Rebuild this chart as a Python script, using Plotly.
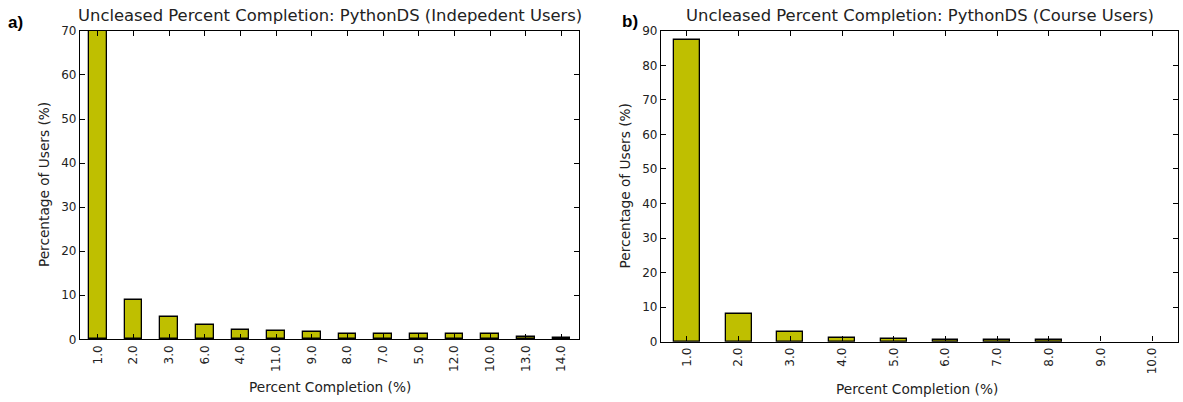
import plotly.graph_objects as go

# ---- data ----
left_categories = ["1.0", "2.0", "3.0", "6.0", "4.0", "11.0", "9.0", "8.0",
                   "7.0", "5.0", "12.0", "10.0", "13.0", "14.0"]
left_values = [70.0, 9.0, 5.1, 3.2, 2.2, 1.9, 1.6, 1.3, 1.3, 1.3, 1.3, 1.3, 0.6, 0.25]

right_categories = ["1.0", "2.0", "3.0", "4.0", "5.0", "6.0", "7.0", "8.0", "9.0", "10.0"]
right_values = [87.3, 7.9, 2.9, 1.15, 0.8, 0.4, 0.4, 0.4, 0.0, 0.0]

left_title = "Uncleased Percent Completion: PythonDS (Indepedent Users)"
right_title = "Uncleased Percent Completion: PythonDS (Course Users)"
x_label = "Percent Completion (%)"
y_label = "Percentage of Users (%)"

# ---- layout constants ----
W, H = 1183, 402
FONT = "DejaVu Sans"
BAR_COLOR = "#bfbf00"


def px(x):
    return x / W


def py(y):
    # compensate for the vertical inset/scale observed in the photographed page
    yf = (y - 6.0) / 0.97
    return 1 - yf / H


def edge_widths(values):
    return [1.3 if v > 0 else 0 for v in values]


fig = go.Figure()
fig.add_trace(go.Bar(x=left_categories, y=left_values, width=0.5,
                     marker=dict(color=BAR_COLOR,
                                 line=dict(color="black", width=edge_widths(left_values))),
                     xaxis="x", yaxis="y", showlegend=False))
fig.add_trace(go.Bar(x=right_categories, y=right_values, width=0.5,
                     marker=dict(color=BAR_COLOR,
                                 line=dict(color="black", width=edge_widths(right_values))),
                     xaxis="x2", yaxis="y2", showlegend=False))

axis_common = dict(showline=True, linecolor="black", linewidth=1.3, mirror="allticks",
                   ticks="inside", ticklen=5, tickwidth=1, tickcolor="black",
                   showgrid=False, zeroline=False,
                   tickfont=dict(family=FONT, size=12, color="#222222"))

fig.update_layout(
    width=W, height=H, autosize=False,
    margin=dict(l=0, r=0, t=0, b=0),
    paper_bgcolor="white", plot_bgcolor="white",
    bargap=0,
    xaxis=dict(domain=[px(80), px(579.3)], anchor="y", type="category",
               tickangle=-90, **axis_common),
    yaxis=dict(domain=[py(340), py(30)], anchor="x", range=[0, 70], dtick=10,
               **axis_common),
    xaxis2=dict(domain=[px(661), px(1178.3)], anchor="y2", type="category",
                tickangle=-90, **axis_common),
    yaxis2=dict(domain=[py(342.3), py(30)], anchor="x2", range=[0, 90], dtick=10,
                **axis_common),
)

ann = []
tfont = dict(family=FONT, size=16.4, color="#222222")
lfont = dict(family=FONT, size=13.7, color="#222222")
ann.append(dict(text=left_title, x=px(329.5), y=py(15), font=tfont))
ann.append(dict(text=right_title, x=px(919.7), y=py(15), font=tfont))
ann.append(dict(text=x_label, x=px(330), y=py(388), font=lfont))
ann.append(dict(text=x_label, x=px(917), y=py(390), font=lfont))
ann.append(dict(text=y_label, x=px(44), y=py(185), font=lfont, textangle=-90))
ann.append(dict(text=y_label, x=px(625.3), y=py(186), font=lfont, textangle=-90))
pfont = dict(family="Liberation Sans", size=17, color="black")
ann.append(dict(text="<b>a)</b>", x=px(16), y=py(22), font=pfont))
ann.append(dict(text="<b>b)</b>", x=px(629.7), y=py(21), font=pfont))
for a in ann:
    a.update(xref="paper", yref="paper", showarrow=False,
             xanchor="center", yanchor="middle")
fig.update_layout(annotations=ann)

post = (
    "var gd=document.getElementById('{plot_id}');"
    "document.documentElement.style.margin='0';"
    "document.documentElement.style.overflow='hidden';"
    "document.body.style.margin='0';"
    "document.body.style.padding='0';"
    "document.body.style.overflow='hidden';"
    "document.body.style.height='402px';"
    "gd.style.position='absolute';gd.style.left='0px';gd.style.top='0px';"
)
fig.write_html("out.html", config={"displayModeBar": False}, post_script=post)
